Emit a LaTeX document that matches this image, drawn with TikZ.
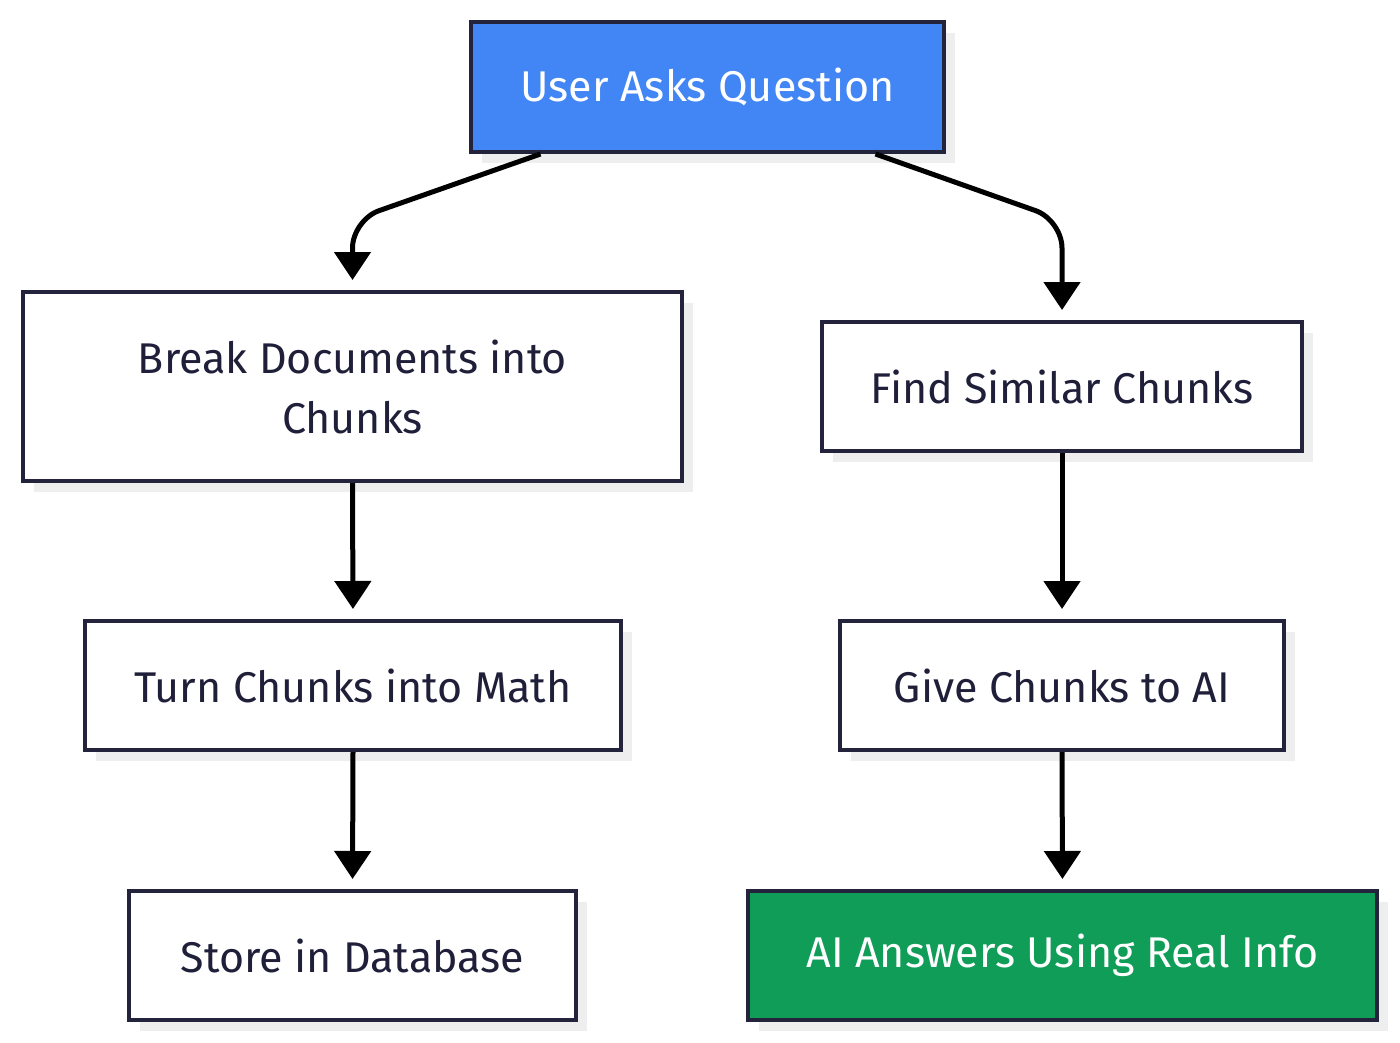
\documentclass[tikz,border=0pt]{standalone}
\usepackage{fontspec}
\setmainfont{Fira Sans}
\usetikzlibrary{arrows.meta,shadows,calc}
\definecolor{bord}{HTML}{23233B}
\definecolor{txt}{HTML}{1F1F3A}
\definecolor{qblue}{HTML}{4285F4}
\definecolor{agreen}{HTML}{0F9D58}
\definecolor{shad}{HTML}{EEEEEE}
\begin{document}
\begin{tikzpicture}[x=1pt,y=-1pt,
  box/.style={draw=bord, line width=4pt, fill=white, text=txt, inner sep=0pt,
    font=\fontsize{43}{60}\selectfont, align=center,
    drop shadow={shadow xshift=11pt, shadow yshift=-11pt, fill=shad, opacity=1}},
  arr/.style={line width=5pt, draw=black, -{Triangle[length=28pt,width=36pt]}, shorten >=10pt}]
\useasboundingbox (0,0) rectangle (1400,1043);
\node[box, fill=qblue, text=white, minimum width=473pt, minimum height=130pt] (q) at (707.5,87) {User Asks Question};
\node[box, minimum width=659pt, minimum height=189pt] (b) at (352.5,386.5) {Break Documents into\\Chunks};
\node[box, minimum width=480pt, minimum height=129pt] (f) at (1062,386.5) {Find Similar Chunks};
\node[box, minimum width=536pt, minimum height=129pt] (t) at (353,685.5) {Turn Chunks into Math};
\node[box, minimum width=444pt, minimum height=129pt] (g) at (1062,685.5) {Give Chunks to AI};
\node[box, minimum width=447pt, minimum height=129pt] (s) at (352.5,955.5) {Store in Database};
\node[box, fill=agreen, text=white, minimum width=629pt, minimum height=129pt] (a) at (1062.5,955.5) {AI Answers Using Real Info};
\draw[arr, rounded corners=28pt] ([xshift=-167pt]q.south) -- ($(b.north)+(0,-70)$) -- (b.north);
\draw[arr, rounded corners=28pt] ([xshift=168pt]q.south) -- ($(f.north)+(0,-100)$) -- (f.north);
\draw[arr] (b.south) -- (t.north);
\draw[arr] (t.south) -- (s.north);
\draw[arr] (f.south) -- (g.north);
\draw[arr] (g.south) -- (a.north);
\end{tikzpicture}
\end{document}
